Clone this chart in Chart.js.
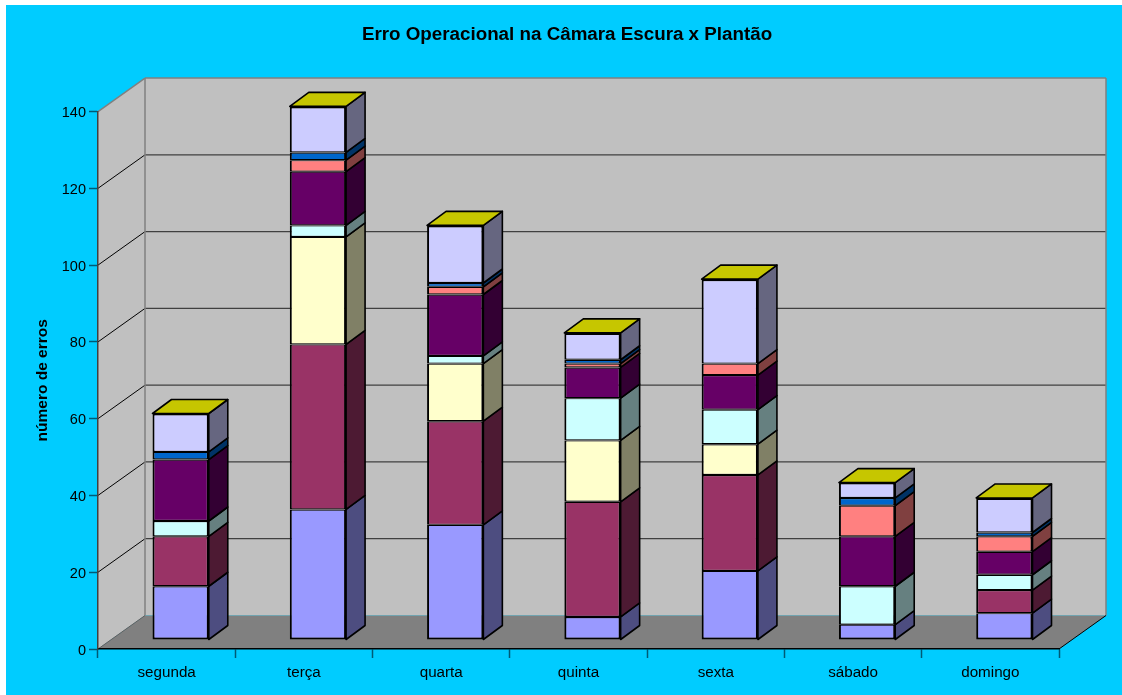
<!DOCTYPE html>
<html lang="pt">
<head>
<meta charset="utf-8">
<title>Erro Operacional na Câmara Escura x Plantão</title>
<style>
  html, body { margin: 0; padding: 0; background: #fff; }
  canvas { display: block; }
</style>
<script src="https://cdn.jsdelivr.net/npm/chart.js@4"></script>
</head>
<body>
<canvas id="grafico" width="1122" height="695"></canvas>
<script>
// Dias de plantão
const dias = ["segunda", "terça", "quarta", "quinta", "sexta", "sábado", "domingo"];

// Erros por plantão, uma lista por tipo de erro (de baixo para cima na pilha)
const serie1 = [14, 34, 30, 6, 18, 4, 7];
const serie2 = [13, 43, 27, 30, 25, 0, 6];
const serie3 = [0, 28, 15, 16, 8, 0, 0];
const serie4 = [4, 3, 2, 11, 9, 10, 4];
const serie5 = [16, 14, 16, 8, 9, 13, 6];
const serie6 = [0, 3, 2, 1, 3, 8, 4];
const serie7 = [2, 2, 1, 1, 0, 2, 1];
const serie8 = [10, 12, 15, 7, 22, 4, 9];
const valores = [serie1, serie2, serie3, serie4, serie5, serie6, serie7, serie8];

const coresFrente = ["#9999FF", "#993366", "#FFFFCC", "#CCFFFF", "#660066", "#FF8080", "#0066CC", "#CCCCFF"];
const coresLado = ["#4D4D80", "#4D1A33", "#808066", "#668080", "#330033", "#804040", "#003366", "#666680"];
const corTopo = "#C6C600";

// Profundidade da caixa 3D e das colunas
const caixaDx = 47, caixaDy = 33.5;
const colunaDx = 14, colunaDy = 9;
const ladoDx = 19, ladoDy = 14;

const paredes3D = {
  id: "paredes3D",
  beforeDraw(chart) {
    const { ctx, chartArea: a, scales } = chart;
    ctx.save();
    ctx.fillStyle = "#fff";
    ctx.fillRect(0, 0, chart.width, chart.height);
    ctx.fillStyle = "#00CCFF";
    ctx.fillRect(6, 5, chart.width - 6, chart.height - 5);

    const poly = (pts, fill) => {
      ctx.beginPath();
      pts.forEach((p, i) => i ? ctx.lineTo(p[0], p[1]) : ctx.moveTo(p[0], p[1]));
      ctx.closePath();
      ctx.fillStyle = fill;
      ctx.fill();
    };
    const linha = (x0, y0, x1, y1, cor, w) => {
      ctx.beginPath();
      ctx.moveTo(x0, y0);
      ctx.lineTo(x1, y1);
      ctx.strokeStyle = cor;
      ctx.lineWidth = w;
      ctx.stroke();
    };

    const L = a.left, R = a.right, T = a.top, B = a.bottom;
    // parede do fundo, parede lateral e piso
    poly([[L + caixaDx, T - caixaDy], [R + caixaDx, T - caixaDy], [R + caixaDx, B - caixaDy], [L + caixaDx, B - caixaDy]], "#C0C0C0");
    poly([[L, T], [L + caixaDx, T - caixaDy], [L + caixaDx, B - caixaDy], [L, B]], "#C0C0C0");
    poly([[L, B], [R, B], [R + caixaDx, B - caixaDy], [L + caixaDx, B - caixaDy]], "#808080");

    // linhas de grade nas paredes
    scales.y.ticks.forEach(t => {
      if (t.value === 0) return;
      const y = scales.y.getPixelForValue(t.value);
      if (t.value < scales.y.max) {
        linha(L + caixaDx, y - caixaDy, R + caixaDx, y - caixaDy, "#404040", 1.2);
        linha(L, y, L + caixaDx, y - caixaDy, "#000", 1);
      }
    });

    // arestas da caixa
    linha(L, T, L + caixaDx, T - caixaDy, "#808080", 1.5);
    linha(L + caixaDx, T - caixaDy, R + caixaDx, T - caixaDy, "#808080", 1.5);
    linha(L + caixaDx, T - caixaDy, L + caixaDx, B - caixaDy, "#808080", 1.5);
    linha(R + caixaDx, T - caixaDy, R + caixaDx, B - caixaDy, "#808080", 1.5);
    linha(L, B, L + caixaDx, B - caixaDy, "#606060", 1);
    linha(R, B, R + caixaDx, B - caixaDy, "#000", 1);
    ctx.restore();
  },
  beforeDatasetsDraw(chart) {
    const { ctx } = chart;
    ctx.save();
    ctx.translate(colunaDx, -colunaDy);
    ctx.lineJoin = "round";
    ctx.strokeStyle = "#000";
    ctx.lineWidth = 1.6;

    const face = (pts, fill) => {
      ctx.beginPath();
      pts.forEach((p, i) => i ? ctx.lineTo(p[0], p[1]) : ctx.moveTo(p[0], p[1]));
      ctx.closePath();
      ctx.fillStyle = fill;
      ctx.fill();
      ctx.stroke();
    };

    // faces laterais e topo de cada coluna
    const ultima = valores.length - 1;
    valores.forEach((serie, s) => {
      chart.getDatasetMeta(s).data.forEach((bar, i) => {
        if (!serie[i]) return;
        const dir = bar.x + bar.width / 2;
        face([[dir, bar.base], [dir + ladoDx, bar.base - ladoDy], [dir + ladoDx, bar.y - ladoDy], [dir, bar.y]], coresLado[s]);
        if (s === ultima) {
          const esq = bar.x - bar.width / 2;
          face([[esq, bar.y], [esq + ladoDx, bar.y - ladoDy], [dir + ladoDx, bar.y - ladoDy], [dir, bar.y]], corTopo);
        }
      });
    });
  },
  afterDatasetsDraw(chart) {
    chart.ctx.restore();
  }
};

new Chart(document.getElementById("grafico"), {
  type: "bar",
  data: {
    labels: dias,
    datasets: valores.map((serie, s) => ({
      label: "Erro " + (s + 1),
      data: serie,
      backgroundColor: coresFrente[s],
      borderColor: "#000",
      // bordas horizontais finas para que segmentos vizinhos somem uma linha só
      borderWidth: {
        left: 2,
        right: 2,
        top: s === valores.length - 1 ? 2 : 1.2,
        bottom: s === 0 ? 2 : 1.2
      },
      borderSkipped: false,
      clip: false
    }))
  },
  plugins: [paredes3D],
  options: {
    responsive: false,
    animation: false,
    devicePixelRatio: 1,
    barPercentage: 0.41,
    categoryPercentage: 1,
    layout: { padding: { left: 12, right: 0, top: 0, bottom: 0 } },
    plugins: {
      legend: { display: false },
      tooltip: { enabled: false },
      title: {
        display: true,
        text: "Erro Operacional na Câmara Escura x Plantão",
        color: "#000",
        font: { family: "'Liberation Sans', Arial, sans-serif", size: 18.8, weight: "bold", lineHeight: 1.2 },
        padding: { top: 24, bottom: 65 }
      }
    },
    scales: {
      x: {
        stacked: true,
        afterFit(s) { s.height = 46; },
        border: { display: true, color: "#000", width: 1.5 },
        grid: { offset: true, drawOnChartArea: false, drawTicks: true, tickLength: 9, tickWidth: 1.5, tickColor: "#005A75" },
        ticks: {
          color: "#000",
          padding: 6,
          maxRotation: 0,
          font: { family: "'Liberation Sans', Arial, sans-serif", size: 15.2 }
        }
      },
      y: {
        stacked: true,
        min: 0,
        max: 140,
        afterFit(s) { s.width = 86; },
        border: { display: true, color: "#404040", width: 1.5 },
        grid: { drawOnChartArea: false, drawTicks: true, tickLength: 9, tickWidth: 1.5, tickColor: "#005A75" },
        ticks: {
          stepSize: 20,
          color: "#000",
          padding: 3,
          labelOffset: 1.5,
          font: { family: "'Liberation Sans', Arial, sans-serif", size: 14.5 }
        },
        title: {
          display: true,
          text: "número de erros",
          color: "#000",
          padding: { top: 21, bottom: 0 },
          font: { family: "'Liberation Sans', Arial, sans-serif", size: 15.5, weight: "bold" }
        }
      },
      // eixo vazio que reserva a margem direita, ocupada pela profundidade da caixa
      margemDireita: {
        axis: "y",
        position: "right",
        afterFit(s) { s.width = 63; },
        border: { display: false },
        grid: { display: false },
        ticks: { display: false }
      }
    }
  }
});
</script>
</body>
</html>
